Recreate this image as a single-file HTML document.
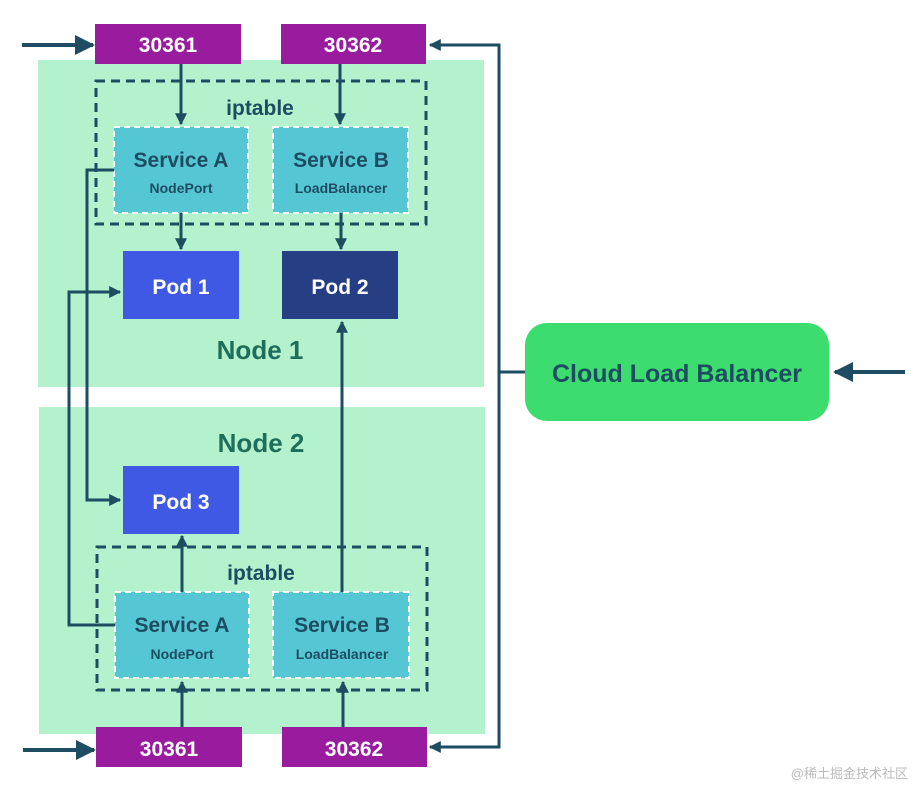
<!DOCTYPE html>
<html><head><meta charset="utf-8"><style>
body{margin:0;background:#fff;width:917px;height:788px;overflow:hidden;font-family:"Liberation Sans",sans-serif}
</style></head><body>
<svg width="917" height="788" xmlns="http://www.w3.org/2000/svg" font-family="Liberation Sans, sans-serif" font-weight="bold">
<defs>
<marker id="a" viewBox="0 0 10 10" refX="9" refY="5" markerWidth="5" markerHeight="5" orient="auto"><path d="M0,0L10,5L0,10z" fill="#1e4d63"/></marker>
<marker id="b" viewBox="0 0 10 10" refX="9" refY="5" markerWidth="4" markerHeight="4" orient="auto"><path d="M0,0L10,5L0,10z" fill="#1e4d63"/></marker>
</defs>
<rect x="38" y="60" width="446" height="327" fill="#b3f2cc"/>
<rect x="39" y="407" width="446" height="327" fill="#b3f2cc"/>
<g fill="none" stroke="#1e4d63" stroke-width="3" stroke-dasharray="9,6">
<rect x="96" y="81" width="330" height="143"/>
<rect x="97" y="547" width="330" height="143"/>
</g>
<g fill="#55c7d4" stroke="#fff" stroke-width="2" stroke-dasharray="6,4">
<rect x="114" y="127" width="134" height="86"/><rect x="273" y="127" width="135" height="86"/>
<rect x="115" y="592" width="134" height="86"/><rect x="273" y="592" width="136" height="86"/>
</g>
<rect x="123" y="251" width="116" height="68" fill="#4059e4"/>
<rect x="282" y="251" width="116" height="68" fill="#263f84"/>
<rect x="123" y="466" width="116" height="68" fill="#4059e4"/>
<g fill="#9a1c9e"><rect x="95" y="24" width="146" height="40"/><rect x="281" y="24" width="145" height="40"/>
<rect x="96" y="727" width="146" height="40"/><rect x="282" y="727" width="145" height="40"/></g>
<rect x="525" y="323" width="304" height="98" rx="22" fill="#3ddc6e"/>
<g fill="none" stroke="#1e4d63" stroke-width="3">
<path d="M181 64V124" marker-end="url(#b)"/><path d="M340 64V124" marker-end="url(#b)"/>
<path d="M181 213V249" marker-end="url(#b)"/><path d="M341 213V249" marker-end="url(#b)"/>
<path d="M182 592V536" marker-end="url(#b)"/><path d="M342 592V322" marker-end="url(#b)"/>
<path d="M182 727V682" marker-end="url(#b)"/><path d="M343 727V682" marker-end="url(#b)"/>
<path d="M114 170H87V500H120" marker-end="url(#b)"/>
<path d="M115 625H69V292H120" marker-end="url(#b)"/>
<path d="M525 372H499V45H430" marker-end="url(#b)"/><path d="M499 372V747H430" marker-end="url(#b)"/>
<path d="M905 372H835" stroke-width="4" marker-end="url(#a)"/>
<path d="M22 45H93" stroke-width="4" marker-end="url(#a)"/><path d="M23 750H94" stroke-width="4" marker-end="url(#a)"/>
</g>
<g fill="#fff" font-size="21" text-anchor="middle">
<text x="168" y="52">30361</text><text x="353" y="52">30362</text>
<text x="169" y="756">30361</text><text x="354" y="756">30362</text>
<text x="181" y="294">Pod 1</text><text x="340" y="294">Pod 2</text><text x="181" y="509">Pod 3</text>
</g>
<g fill="#1e4d63" text-anchor="middle">
<text x="260" y="115" font-size="21">iptable</text><text x="261" y="580" font-size="21">iptable</text>
<text x="181" y="167" font-size="21">Service A</text><text x="341" y="167" font-size="21">Service B</text>
<text x="181" y="193" font-size="14">NodePort</text><text x="341" y="193" font-size="14">LoadBalancer</text>
<text x="182" y="632" font-size="21">Service A</text><text x="342" y="632" font-size="21">Service B</text>
<text x="182" y="659" font-size="14">NodePort</text><text x="342" y="659" font-size="14">LoadBalancer</text>
<text x="677" y="382" font-size="25">Cloud Load Balancer</text>
</g>
<g fill="#1f6e5a" font-size="26" text-anchor="middle">
<text x="260" y="359">Node 1</text><text x="261" y="452">Node 2</text>
</g>
<text x="908" y="778" font-size="13" font-weight="normal" fill="#bbb" text-anchor="end" font-family="Liberation Sans, Noto Sans CJK SC, sans-serif">@稀土掘金技术社区</text>
</svg>
</body></html>
